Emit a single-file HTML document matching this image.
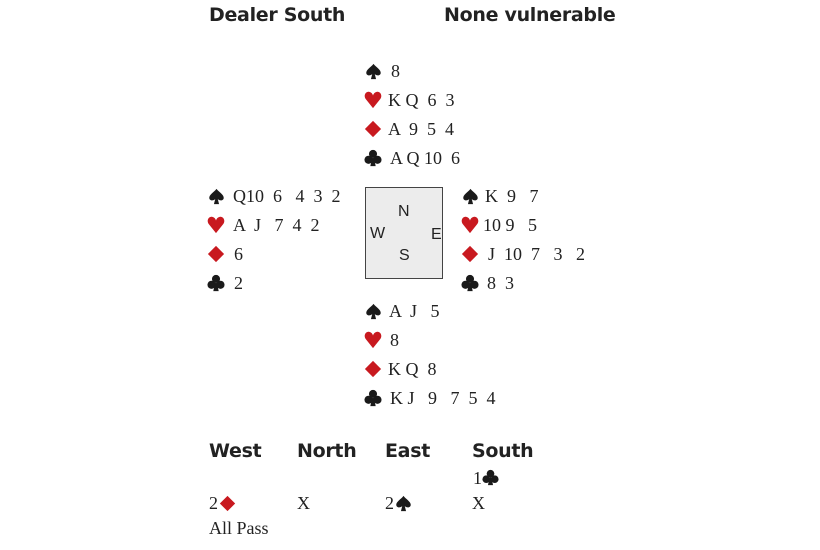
<!DOCTYPE html>
<html><head><meta charset="utf-8"><style>
body{margin:0;width:820px;height:550px;background:#fff;position:relative;overflow:hidden;font-family:"Liberation Serif",serif;color:#222}
.a{position:absolute;white-space:pre;line-height:20px}
.c{font-size:18px}
svg.i{position:absolute;width:17px;height:17px;margin-top:2px}
.r{fill:#c8191f}
.k{fill:#1a1a1a}
.h{font-family:"DejaVu Sans","Liberation Sans",sans-serif;font-weight:bold;font-size:19px;letter-spacing:-0.3px}
.box{position:absolute;left:365px;top:187px;width:78px;height:92px;border:1.5px solid #444;background:#ececec;box-sizing:border-box}
.d{position:absolute;font-family:"Liberation Sans",sans-serif;font-size:16px}
</style></head><body>
<div class="a h" style="left:209px;top:5px">Dealer South</div>
<div class="a h" style="left:444px;top:5px">None vulnerable</div>

<!-- North -->
<svg class="i" style="left:365px;top:61px" viewBox="0 0 20 20"><path class="k" d="M10,1 C13,5 19,8 18.5,12 C18,15 13.5,15.5 11.5,13 L13,19 L7,19 L8.5,13 C6.5,15.5 2,15 1.5,12 C1,8 7,5 10,1Z"/></svg>
<div class="a c" style="left:391px;top:61px">8</div>
<svg class="i" style="left:364px;top:89px;width:18px;height:18px" viewBox="0 0 20 20"><path class="r" d="M10,19 L2,9 C-1,5 2,0 6,1 C8,1.5 9.5,3 10,5 C10.5,3 12,1.5 14,1 C18,0 21,5 18,9 Z"/></svg>
<div class="a c" style="left:388px;top:90px">K Q  6  3</div>
<svg class="i" style="left:364px;top:118px;width:18px;height:18px" viewBox="0 0 20 20"><polygon class="r" points="10,1 19,10 10,19 1,10"/></svg>
<div class="a c" style="left:388px;top:119px">A  9  5  4</div>
<svg class="i" style="left:364px;top:147px;width:18px;height:18px" viewBox="0 0 20 20"><g class="k"><circle cx="10" cy="5.5" r="4.5"/><circle cx="5" cy="12" r="4.5"/><circle cx="15" cy="12" r="4.5"/><path d="M9,10 L11,10 L13,19 L7,19Z"/></g></svg>
<div class="a c" style="left:390px;top:148px">A Q 10  6</div>

<!-- West -->
<svg class="i" style="left:208px;top:186px" viewBox="0 0 20 20"><path class="k" d="M10,1 C13,5 19,8 18.5,12 C18,15 13.5,15.5 11.5,13 L13,19 L7,19 L8.5,13 C6.5,15.5 2,15 1.5,12 C1,8 7,5 10,1Z"/></svg>
<div class="a c" style="left:233px;top:186px">Q10  6   4  3  2</div>
<svg class="i" style="left:207px;top:214px;width:18px;height:18px" viewBox="0 0 20 20"><path class="r" d="M10,19 L2,9 C-1,5 2,0 6,1 C8,1.5 9.5,3 10,5 C10.5,3 12,1.5 14,1 C18,0 21,5 18,9 Z"/></svg>
<div class="a c" style="left:233px;top:215px">A  J   7  4  2</div>
<svg class="i" style="left:207px;top:243px;width:18px;height:18px" viewBox="0 0 20 20"><polygon class="r" points="10,1 19,10 10,19 1,10"/></svg>
<div class="a c" style="left:234px;top:244px">6</div>
<svg class="i" style="left:207px;top:272px;width:18px;height:18px" viewBox="0 0 20 20"><g class="k"><circle cx="10" cy="5.5" r="4.5"/><circle cx="5" cy="12" r="4.5"/><circle cx="15" cy="12" r="4.5"/><path d="M9,10 L11,10 L13,19 L7,19Z"/></g></svg>
<div class="a c" style="left:234px;top:273px">2</div>

<div class="box"></div>
<div class="d" style="left:398px;top:203px">N</div>
<div class="d" style="left:370px;top:225px">W</div>
<div class="d" style="left:431px;top:226px">E</div>
<div class="d" style="left:399px;top:247px">S</div>

<!-- East -->
<svg class="i" style="left:462px;top:186px" viewBox="0 0 20 20"><path class="k" d="M10,1 C13,5 19,8 18.5,12 C18,15 13.5,15.5 11.5,13 L13,19 L7,19 L8.5,13 C6.5,15.5 2,15 1.5,12 C1,8 7,5 10,1Z"/></svg>
<div class="a c" style="left:485px;top:186px">K  9   7</div>
<svg class="i" style="left:461px;top:214px;width:18px;height:18px" viewBox="0 0 20 20"><path class="r" d="M10,19 L2,9 C-1,5 2,0 6,1 C8,1.5 9.5,3 10,5 C10.5,3 12,1.5 14,1 C18,0 21,5 18,9 Z"/></svg>
<div class="a c" style="left:483px;top:215px">10 9   5</div>
<svg class="i" style="left:461px;top:243px;width:18px;height:18px" viewBox="0 0 20 20"><polygon class="r" points="10,1 19,10 10,19 1,10"/></svg>
<div class="a c" style="left:488px;top:244px">J  10  7   3   2</div>
<svg class="i" style="left:461px;top:272px;width:18px;height:18px" viewBox="0 0 20 20"><g class="k"><circle cx="10" cy="5.5" r="4.5"/><circle cx="5" cy="12" r="4.5"/><circle cx="15" cy="12" r="4.5"/><path d="M9,10 L11,10 L13,19 L7,19Z"/></g></svg>
<div class="a c" style="left:487px;top:273px">8  3</div>

<!-- South -->
<svg class="i" style="left:365px;top:301px" viewBox="0 0 20 20"><path class="k" d="M10,1 C13,5 19,8 18.5,12 C18,15 13.5,15.5 11.5,13 L13,19 L7,19 L8.5,13 C6.5,15.5 2,15 1.5,12 C1,8 7,5 10,1Z"/></svg>
<div class="a c" style="left:389px;top:301px">A  J   5</div>
<svg class="i" style="left:364px;top:329px;width:18px;height:18px" viewBox="0 0 20 20"><path class="r" d="M10,19 L2,9 C-1,5 2,0 6,1 C8,1.5 9.5,3 10,5 C10.5,3 12,1.5 14,1 C18,0 21,5 18,9 Z"/></svg>
<div class="a c" style="left:390px;top:330px">8</div>
<svg class="i" style="left:364px;top:358px;width:18px;height:18px" viewBox="0 0 20 20"><polygon class="r" points="10,1 19,10 10,19 1,10"/></svg>
<div class="a c" style="left:388px;top:359px">K Q  8</div>
<svg class="i" style="left:364px;top:387px;width:18px;height:18px" viewBox="0 0 20 20"><g class="k"><circle cx="10" cy="5.5" r="4.5"/><circle cx="5" cy="12" r="4.5"/><circle cx="15" cy="12" r="4.5"/><path d="M9,10 L11,10 L13,19 L7,19Z"/></g></svg>
<div class="a c" style="left:390px;top:388px">K J   9   7  5  4</div>

<!-- Auction -->
<div class="a h" style="left:209px;top:441px">West</div>
<div class="a h" style="left:297px;top:441px">North</div>
<div class="a h" style="left:385px;top:441px">East</div>
<div class="a h" style="left:472px;top:441px">South</div>
<div class="a c" style="left:473px;top:468px">1</div>
<svg class="i" style="left:482px;top:467px" viewBox="0 0 20 20"><g class="k"><circle cx="10" cy="5.5" r="4.5"/><circle cx="5" cy="12" r="4.5"/><circle cx="15" cy="12" r="4.5"/><path d="M9,10 L11,10 L13,19 L7,19Z"/></g></svg>
<div class="a c" style="left:209px;top:493px">2</div>
<svg class="i" style="left:219px;top:493px" viewBox="0 0 20 20"><polygon class="r" points="10,1 19,10 10,19 1,10"/></svg>
<div class="a c" style="left:297px;top:493px">X</div>
<div class="a c" style="left:385px;top:493px">2</div>
<svg class="i" style="left:395px;top:493px" viewBox="0 0 20 20"><path class="k" d="M10,1 C13,5 19,8 18.5,12 C18,15 13.5,15.5 11.5,13 L13,19 L7,19 L8.5,13 C6.5,15.5 2,15 1.5,12 C1,8 7,5 10,1Z"/></svg>
<div class="a c" style="left:472px;top:493px">X</div>
<div class="a c" style="left:209px;top:518px">All Pass</div>
</body></html>
